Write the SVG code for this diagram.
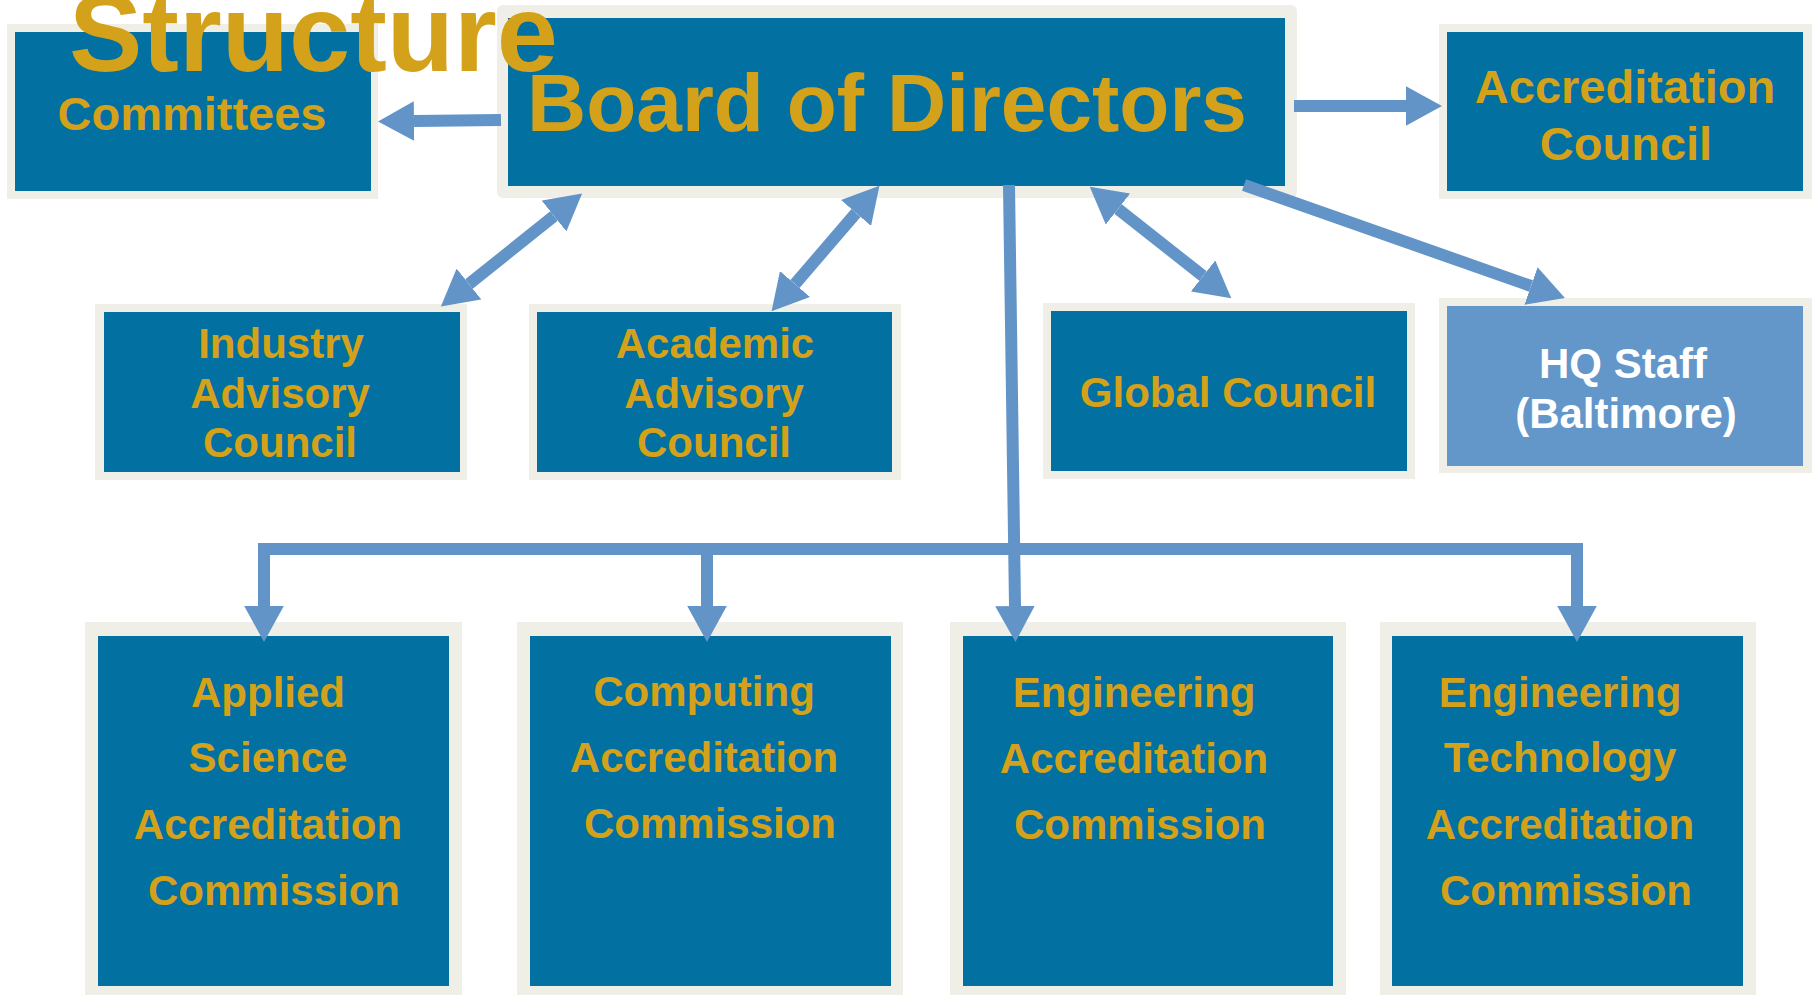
<svg xmlns="http://www.w3.org/2000/svg" width="1812" height="995" viewBox="0 0 1812 995">
  <defs>
    <style>
      .frame { fill: #F0EFE7; }
      .box { fill: #0270A0; }
      .box-light { fill: #6396C9; }
      .label { font-family: "Liberation Sans", Arial, sans-serif; font-weight: bold; fill: #D4A11A; text-anchor: middle; }
      .label-white { font-family: "Liberation Sans", Arial, sans-serif; font-weight: bold; fill: #FFFFFF; text-anchor: middle; }
      .conn { fill: none; stroke: #6294C8; stroke-width: 12; stroke-linejoin: miter; }
      .title { font-family: "Liberation Sans", Arial, sans-serif; font-weight: bold; fill: #D4A11A; font-size: 110px; }
    </style>
    <marker id="head" viewBox="0 0 3 3.3" markerUnits="strokeWidth" markerWidth="3" markerHeight="3.3" refX="0" refY="1.65" orient="auto-start-reverse">
      <path d="M0,0 L3,1.65 L0,3.3 z" fill="#6294C8"/>
    </marker>
  </defs>

  <rect width="1812" height="995" fill="#FFFFFF"/>

  <!-- top row -->
  <g id="committees">
    <rect class="frame" x="7" y="24" width="371" height="175"/>
    <rect class="box" x="15" y="32" width="356" height="159"/>
    <text class="label" x="192" y="130" font-size="47">Committees</text>
  </g>

  <g id="board">
    <rect class="frame" x="497" y="5" width="800" height="193" rx="6"/>
    <rect class="box" x="508" y="18" width="777" height="168"/>
    <text class="label" x="887" y="131" font-size="82">Board of Directors</text>
  </g>

  <g id="accreditation-council">
    <rect class="frame" x="1439" y="24" width="373" height="175"/>
    <rect class="box" x="1447" y="32" width="356" height="159"/>
    <text class="label" x="1625" y="103" font-size="47">Accreditation</text>
    <text class="label" x="1626" y="160" font-size="47">Council</text>
  </g>

  <!-- advisory row -->
  <g id="industry-advisory">
    <rect class="frame" x="95" y="304" width="372" height="176"/>
    <rect class="box" x="104" y="312" width="356" height="160"/>
    <text class="label" x="281" y="358" font-size="42">Industry</text>
    <text class="label" x="280" y="408" font-size="42">Advisory</text>
    <text class="label" x="280" y="457" font-size="42">Council</text>
  </g>

  <g id="academic-advisory">
    <rect class="frame" x="529" y="304" width="372" height="176"/>
    <rect class="box" x="537" y="312" width="355" height="160"/>
    <text class="label" x="715" y="358" font-size="42">Academic</text>
    <text class="label" x="714" y="408" font-size="42">Advisory</text>
    <text class="label" x="714" y="457" font-size="42">Council</text>
  </g>

  <g id="global-council">
    <rect class="frame" x="1043" y="303" width="372" height="176"/>
    <rect class="box" x="1051" y="311" width="356" height="160"/>
    <text class="label" x="1228" y="407" font-size="42">Global Council</text>
  </g>

  <g id="hq-staff">
    <rect class="frame" x="1439" y="298" width="373" height="175"/>
    <rect class="box-light" x="1447" y="306" width="356" height="160"/>
    <text class="label-white" x="1623" y="378" font-size="42">HQ Staff</text>
    <text class="label-white" x="1626" y="428" font-size="42">(Baltimore)</text>
  </g>

  <!-- commissions -->
  <g id="asac">
    <rect class="frame" x="85" y="622" width="377" height="380"/>
    <rect class="box" x="98" y="636" width="351" height="350"/>
    <text class="label" x="268" y="707" font-size="42">Applied</text>
    <text class="label" x="268" y="772" font-size="42">Science</text>
    <text class="label" x="268" y="839" font-size="42">Accreditation</text>
    <text class="label" x="274" y="905" font-size="42">Commission</text>
  </g>

  <g id="cac">
    <rect class="frame" x="517" y="622" width="386" height="380"/>
    <rect class="box" x="530" y="636" width="361" height="350"/>
    <text class="label" x="704" y="706" font-size="42">Computing</text>
    <text class="label" x="704" y="772" font-size="42">Accreditation</text>
    <text class="label" x="710" y="838" font-size="42">Commission</text>
  </g>

  <g id="eac">
    <rect class="frame" x="950" y="622" width="396" height="380"/>
    <rect class="box" x="963" y="636" width="370" height="350"/>
    <text class="label" x="1134" y="707" font-size="42">Engineering</text>
    <text class="label" x="1134" y="773" font-size="42">Accreditation</text>
    <text class="label" x="1140" y="839" font-size="42">Commission</text>
  </g>

  <g id="etac">
    <rect class="frame" x="1380" y="622" width="376" height="380"/>
    <rect class="box" x="1392" y="636" width="351" height="350"/>
    <text class="label" x="1560" y="707" font-size="42">Engineering</text>
    <text class="label" x="1560" y="772" font-size="42">Technology</text>
    <text class="label" x="1560" y="839" font-size="42">Accreditation</text>
    <text class="label" x="1566" y="905" font-size="42">Commission</text>
  </g>

  <!-- connectors -->
  <g id="connectors">
    <path class="conn" d="M501,120 L414,121" marker-end="url(#head)"/>
    <path class="conn" d="M1294,106 L1406,106" marker-end="url(#head)"/>
    <path class="conn" d="M469,284 L554,216" marker-start="url(#head)" marker-end="url(#head)"/>
    <path class="conn" d="M795,284 L856,213" marker-start="url(#head)" marker-end="url(#head)"/>
    <path class="conn" d="M1118,209 L1203,276" marker-start="url(#head)" marker-end="url(#head)"/>
    <path class="conn" d="M1244,185 L1531,286" marker-end="url(#head)"/>
    <path class="conn" d="M1009,185 L1015,606" marker-end="url(#head)"/>
    <path class="conn" d="M264,606 V549 H1577 V606" marker-start="url(#head)" marker-end="url(#head)"/>
    <path class="conn" d="M707,549 V606" marker-end="url(#head)"/>
  </g>

  <text class="title" x="69" y="71">Structure</text>
</svg>
